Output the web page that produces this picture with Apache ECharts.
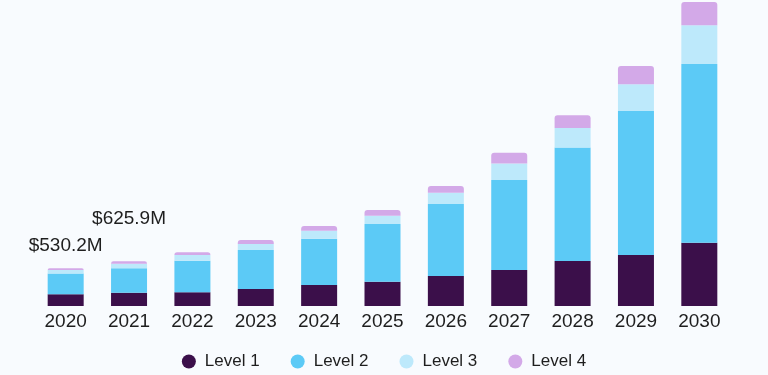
<!DOCTYPE html>
<html>
<head>
<meta charset="utf-8">
<script src="https://cdn.jsdelivr.net/npm/echarts@6/dist/echarts.min.js"></script>
<style>
html,body{margin:0;padding:0;background:#f8fbfe;}
#chart{width:768px;height:375px;}
</style>
</head>
<body>
<div id="chart"></div>
<script>
var years = ['2020','2021','2022','2023','2024','2025','2026','2027','2028','2029','2030'];
var level1 = [165, 185, 192, 238, 294, 340, 420, 504, 630, 714, 886];
var level2 = [290, 345, 442, 546, 648, 808, 1008, 1260, 1592, 2020, 2506];
var level3 = [50, 62, 80, 84, 112, 116, 158, 234, 274, 374, 542];
var level4 = [25.2, 33.9, 38, 56, 66, 80, 94, 148, 178, 256, 326];
var totalLabels = ['$530.2M', '$625.9M', '', '', '', '', '', '', '', '', ''];
var seriesNames = ['Level 1', 'Level 2', 'Level 3', 'Level 4'];
var colors = ['#3b0f4a', '#5ccaf6', '#bde9fb', '#d3a9e8'];

var labelOffsets = [[0, -8], [0, -28]];
var level4Data = level4.map(function (v, i) {
  var item = { value: v };
  if (totalLabels[i]) {
    item.label = {
      show: true,
      position: 'top',
      offset: labelOffsets[i] || [0, 0],
      formatter: totalLabels[i],
      color: '#1e1e1e',
      fontSize: 19,
      fontFamily: 'Liberation Sans, Arial, sans-serif'
    };
  }
  return item;
});

var chart = echarts.init(document.getElementById('chart'));
var barW = 36;
chart.setOption({
  backgroundColor: '#f8fbfe',
  animation: false,
  color: colors,
  grid: { left: 34, right: 37, top: 2, bottom: 69 },
  legend: {
    data: seriesNames,
    left: 'center',
    top: 348,
    icon: 'circle',
    itemWidth: 14,
    itemHeight: 14,
    itemGap: 31,
    textStyle: { color: '#1e1e1e', fontSize: 17, fontFamily: 'Liberation Sans, Arial, sans-serif', padding: [0, 0, 0, 4] }
  },
  xAxis: {
    type: 'category',
    data: years,
    axisLine: { show: false },
    axisTick: { show: false },
    axisLabel: { color: '#1e1e1e', fontSize: 19, margin: 6, fontFamily: 'Liberation Sans, Arial, sans-serif' }
  },
  yAxis: {
    type: 'value',
    min: 0,
    max: 4260,
    show: false,
    splitLine: { show: false }
  },
  series: [
    { name: seriesNames[0], type: 'bar', stack: 't', barWidth: barW, data: level1, itemStyle: { color: colors[0] } },
    { name: seriesNames[1], type: 'bar', stack: 't', barWidth: barW, data: level2, itemStyle: { color: colors[1] } },
    { name: seriesNames[2], type: 'bar', stack: 't', barWidth: barW, data: level3, itemStyle: { color: colors[2] } },
    { name: seriesNames[3], type: 'bar', stack: 't', barWidth: barW, data: level4Data, itemStyle: { color: colors[3], borderRadius: [3, 3, 0, 0] } }
  ]
});
</script>
</body>
</html>
